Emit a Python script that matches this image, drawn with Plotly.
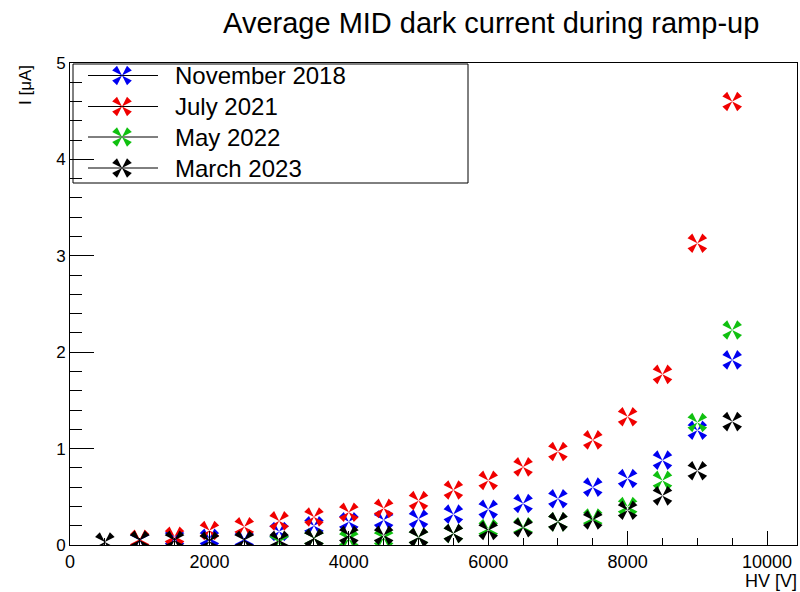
import plotly.graph_objects as go

# High voltage set points [V]
hv_volts = [500, 1000, 1500, 2000, 2500, 3000, 3500, 4000, 4500, 5000,
            5500, 6000, 6500, 7000, 7500, 8000, 8500, 9000, 9500]

# Average dark current [uA] per campaign (None = not measured)
current_nov_2018 = [None, 0.05, 0.07, 0.07, 0.06, 0.14, 0.20, 0.24, 0.26, 0.27,
                    0.32, 0.37, 0.43, 0.48, 0.60, 0.69, 0.88, 1.19, 1.92]
current_jul_2021 = [None, 0.06, 0.09, 0.15, 0.19, 0.25, 0.29, 0.34, 0.38, 0.46,
                    0.57, 0.67, 0.81, 0.97, 1.09, 1.33, 1.77, 3.13, 4.60]
current_may_2022 = [None, None, None, None, None, 0.03, 0.07, 0.06, 0.07, 0.08,
                    0.12, 0.17, 0.19, 0.24, 0.28, 0.40, 0.67, 1.27, 2.23]
current_mar_2023 = [0.03, 0.05, 0.05, 0.04, 0.05, 0.05, 0.07, 0.10, 0.10, 0.08,
                    0.12, 0.15, 0.18, 0.24, 0.26, 0.36, 0.51, 0.77, 1.28]

series_labels = ["November 2018", "July 2021", "May 2022", "March 2023"]
series_colors = ["#0000f0", "#f00000", "#10c010", "#000000"]
series_values = [current_nov_2018, current_jul_2021, current_may_2022, current_mar_2023]

x_tick_values = [0, 2000, 4000, 6000, 8000, 10000]
x_tick_text = ["0", "2000", "4000", "6000", "8000", "10000"]
y_tick_values = [0, 1, 2, 3, 4, 5]

# "four triangles X" marker: four arrowheads meeting at the point
ARROW_DIRS = [45, 135, 225, 315]
MARKER_SIZE = 11


def butterfly(xs, ys):
    px, py, ang = [], [], []
    for x, y in zip(xs, ys):
        if y is None:
            continue
        for a in ARROW_DIRS:
            px.append(x)
            py.append(y)
            ang.append(a)
    return px, py, ang


fig = go.Figure()

for label, color, values in zip(series_labels, series_colors, series_values):
    px, py, ang = butterfly(hv_volts, values)
    fig.add_trace(go.Scatter(
        x=px, y=py, mode="markers", name=label, showlegend=False,
        marker=dict(symbol="arrow", size=MARKER_SIZE, angle=ang, color=color,
                    line=dict(width=0)),
        hoverinfo="skip",
    ))

# Legend box drawn on a pixel-scaled overlay axis pair
LEG_X0, LEG_X1, LEG_Y0, LEG_Y1 = 73, 468, 64, 183
LEG_ROWS = [75.5, 106.5, 137, 168]
LEG_LINE = (88, 158)
LEG_MARK_X = 122
LEG_TEXT_X = 173

fig.add_shape(type="rect", xref="x2", yref="y2", x0=LEG_X0, x1=LEG_X1,
              y0=LEG_Y0, y1=LEG_Y1, line=dict(color="black", width=1),
              fillcolor="white", layer="below")

for row_y, label, color in zip(LEG_ROWS, series_labels, series_colors):
    fig.add_trace(go.Scatter(
        x=list(LEG_LINE), y=[row_y, row_y], mode="lines", xaxis="x2", yaxis="y2",
        line=dict(color="black", width=1), showlegend=False, hoverinfo="skip"))
    px, py, ang = butterfly([LEG_MARK_X], [row_y])
    fig.add_trace(go.Scatter(
        x=px, y=py, mode="markers", xaxis="x2", yaxis="y2", showlegend=False,
        marker=dict(symbol="arrow", size=MARKER_SIZE, angle=ang, color=color,
                    line=dict(width=0)),
        hoverinfo="skip"))
    fig.add_annotation(x=LEG_TEXT_X, y=row_y, xref="x2", yref="y2", text=label,
                       showarrow=False, xanchor="left", yanchor="middle",
                       font=dict(size=24, color="black"))

FONT = "Liberation Sans, Arial, Helvetica, sans-serif"

fig.update_layout(
    width=800, height=592,
    margin=dict(l=70, r=3, t=63, b=47),
    plot_bgcolor="white", paper_bgcolor="white",
    showlegend=False,
    font=dict(family=FONT, color="black"),
    title=dict(text="Average MID dark current during ramp-up",
               x=0.614, xanchor="center", y=0.962, yanchor="middle",
               xref="container", yref="container",
               font=dict(size=29, color="black", family=FONT)),
    xaxis=dict(range=[0, 10430], showline=True, linecolor="black", linewidth=1,
               mirror=True, showgrid=False, zeroline=False,
               tickmode="array", tickvals=x_tick_values, ticktext=x_tick_text,
               ticks="inside", ticklen=14, tickcolor="black", tickwidth=1,
               minor=dict(ticks="inside", dtick=500, ticklen=7,
                          tickcolor="black", tickwidth=1, showgrid=False),
               tickfont=dict(size=18, color="black")),
    yaxis=dict(range=[0, 5], showline=True, linecolor="black", linewidth=1,
               mirror=True, showgrid=False, zeroline=False,
               tickmode="array", tickvals=y_tick_values,
               ticks="inside", ticklen=24, tickcolor="black", tickwidth=1,
               minor=dict(ticks="inside", dtick=0.2, ticklen=12,
                          tickcolor="black", tickwidth=1, showgrid=False),
               tickfont=dict(size=17, color="black")),
    xaxis2=dict(overlaying="x", anchor="y2", range=[70, 797], visible=False,
                fixedrange=True),
    yaxis2=dict(overlaying="y", anchor="x2", range=[545, 63], visible=False,
                fixedrange=True),
)

# Axis titles, ROOT style: aligned to the far end of each axis
fig.add_annotation(text="HV [V]", xref="paper", yref="paper", x=1, y=0,
                   xanchor="right", yanchor="top", xshift=2, yshift=-24,
                   showarrow=False, font=dict(size=18, color="black"))
fig.add_annotation(text="I [\u03bcA]", xref="paper", yref="paper", x=0, y=1,
                   xanchor="center", yanchor="top", xshift=-45, yshift=0,
                   textangle=-90, showarrow=False,
                   font=dict(size=17, color="black"))

fig.write_html("out.html")
